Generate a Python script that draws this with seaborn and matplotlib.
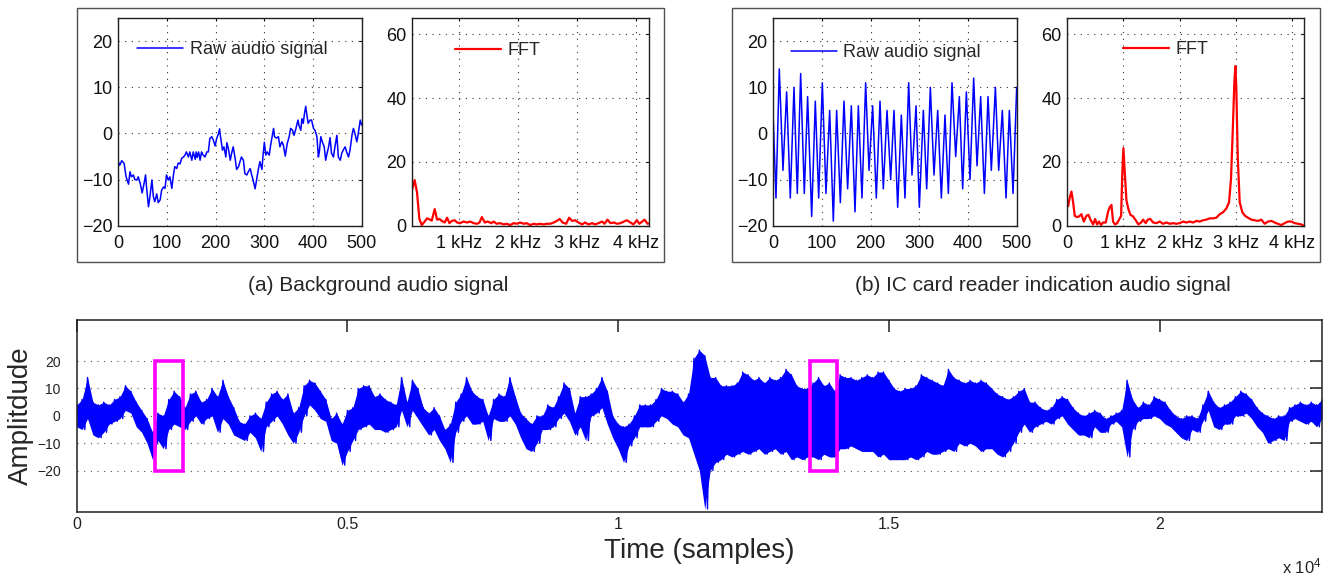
import numpy as np
import matplotlib
matplotlib.use("Agg")
import matplotlib.pyplot as plt
from matplotlib.patches import Rectangle
import seaborn as sns

#########################
# values

# (a) background audio, raw samples
bg_n = [0, 3, 7, 12, 16, 21, 24, 27, 31, 34,
        38, 41, 45, 49, 53, 56, 58, 62, 65, 69,
        72, 75, 79, 82, 86, 89, 93, 96, 99, 103,
        106, 110, 113, 116, 120, 123, 127, 130, 134, 137,
        140, 144, 147, 151, 154, 158, 160, 162, 165, 168,
        171, 173, 178, 182, 185, 188, 192, 195, 199, 202,
        206, 208, 210, 214, 217, 221, 223, 226, 230, 233,
        236, 240, 243, 247, 250, 253, 257, 260, 264, 267,
        271, 274, 277, 281, 284, 288, 291, 295, 298, 300,
        303, 306, 310, 313, 316, 319, 321, 325, 329, 332,
        336, 339, 343, 347, 351, 354, 358, 361, 365, 369,
        371, 375, 377, 380, 382, 385, 387, 390, 394, 397,
        401, 404, 408, 411, 413, 416, 419, 423, 426, 428,
        432, 435, 438, 442, 445, 449, 452, 456, 459, 462,
        466, 469, 473, 476, 480, 483, 486, 490, 493, 497,
        500]
bg_amp = [-6.1, -6.9, -5.9, -6.5, -9.4, -11.0, -8.3, -9.4, -9.0, -10.0,
          -10.1, -9.4, -10.8, -12.9, -10.8, -9.0, -11.6, -15.9, -13.7, -10.1,
          -13.7, -14.8, -13.1, -15.0, -14.4, -12.3, -11.6, -11.9, -9.0, -10.1,
          -9.4, -11.9, -9.2, -7.2, -7.6, -6.4, -6.6, -5.4, -5.1, -4.7,
          -4.0, -5.1, -4.0, -5.8, -4.0, -5.6, -4.0, -5.2, -4.0, -5.8,
          -4.0, -4.5, -5.1, -4.0, -4.0, -1.1, -0.7, -1.4, -2.7, -1.1,
          0.0, 1.0, -0.7, -3.6, -2.9, -5.1, -2.0, -3.2, -5.8, -4.2,
          -2.9, -5.4, -7.8, -7.2, -6.1, -5.1, -5.8, -8.7, -9.0, -8.3,
          -7.6, -9.0, -10.1, -12.0, -10.1, -7.6, -6.1, -7.8, -4.0, -1.9,
          -4.7, -4.0, -4.7, -2.5, -0.7, 1.1, -0.7, -1.0, -0.7, -2.9,
          -1.8, -2.5, -4.9, -2.2, -0.7, 1.1, 0.7, -0.4, 1.1, 2.9,
          1.8, 0.7, 3.2, 2.2, 4.0, 5.9, 4.3, 2.2, 2.9, 2.9,
          1.1, 0.7, -0.7, -5.1, -4.0, -0.7, -1.8, -2.9, -5.8, -4.7,
          -2.9, -0.9, -4.3, -5.1, -2.9, -0.4, -5.1, -5.8, -4.3, -3.6,
          -2.9, -4.0, -5.1, -3.6, -0.4, 1.1, 0.0, -1.8, 0.0, 2.9,
          1.8]

# (a) FFT
bg_khz = [0.20, 0.24, 0.28, 0.32, 0.36, 0.41, 0.45, 0.50, 0.53, 0.58,
          0.62, 0.66, 0.70, 0.75, 0.79, 0.83, 0.87, 0.92, 0.96, 1.01,
          1.07, 1.13, 1.18, 1.24, 1.30, 1.34, 1.38, 1.43, 1.48, 1.54,
          1.58, 1.63, 1.69, 1.75, 1.80, 1.86, 1.92, 1.97, 2.03, 2.09,
          2.14, 2.20, 2.26, 2.31, 2.37, 2.43, 2.48, 2.54, 2.60, 2.65,
          2.70, 2.75, 2.81, 2.86, 2.91, 2.96, 3.02, 3.08, 3.13, 3.19,
          3.25, 3.30, 3.36, 3.42, 3.46, 3.51, 3.56, 3.62, 3.67, 3.73,
          3.79, 3.84, 3.90, 3.95, 4.01, 4.05, 4.10, 4.14, 4.19, 4.23]
bg_fft = [11.5, 14.3, 10.4, 2.1, 0.2, 1.3, 2.3, 1.9, 1.6, 5.2,
          1.9, 2.1, 1.5, 1.0, 2.5, 0.8, 1.5, 1.7, 1.0, 0.8,
          1.3, 1.0, 1.3, 0.8, 0.6, 1.0, 2.7, 1.0, 1.3, 0.8,
          1.3, 0.6, 0.8, 0.4, 0.6, 0.2, 0.8, 0.6, 1.0, 0.6,
          0.8, 0.2, 0.6, 0.4, 0.6, 0.4, 0.6, 0.6, 1.0, 1.5,
          2.1, 1.0, 0.6, 2.5, 1.5, 1.7, 1.0, 0.4, 1.0, 0.4,
          0.8, 0.4, 0.8, 1.3, 0.6, 1.9, 0.8, 1.0, 0.6, 0.8,
          1.3, 1.7, 1.0, 0.4, 1.7, 0.6, 1.3, 1.9, 0.6, 0.8]

# (b) IC card reader tone, raw samples (peaks / troughs)
ic_n = [0, 5.5, 12.3, 19.9, 27.4, 34.9, 42.5, 49.3, 56.2, 63.7,
        70.5, 78.8, 86.3, 93.2, 100.7, 108.2, 115.8, 123.3, 130.1, 137.7,
        145.2, 152.7, 160.3, 167.8, 174.7, 182.2, 189.7, 196.6, 204.1, 211.6,
        219.2, 226.0, 233.6, 241.1, 247.9, 255.5, 263.0, 270.5, 278.1, 284.9,
        293.2, 300.0, 308.2, 315.1, 322.6, 330.1, 337.7, 345.2, 352.7, 359.6,
        367.1, 374.7, 382.2, 389.0, 396.6, 404.1, 411.6, 418.5, 426.0, 433.6,
        441.1, 447.9, 456.2, 463.0, 470.5, 478.1, 484.9, 492.5, 500]
ic_amp = [3, -14, 14, -8, 9, -14, 10, -13, 13, -13,
          8, -18, 7, -14, 11, -13, 5, -19, 5, -15,
          7, -12, 6, -17, 6, -14, 11, -8, 6, -14,
          7, -12, 5, -10, 5, -16, 4, -14, 11, -9,
          6, -16, 5, -12, 10, -9, 5, -14, 4, -13,
          11, -5, 8, -12, 9, -10, 12, -7, 8, -13,
          8, -8, 10, -8, 5, -14, 5, -13, 10]

# (b) FFT
ic_khz = [0.015, 0.044, 0.074, 0.104, 0.133, 0.175, 0.21, 0.252, 0.294, 0.34,
          0.377, 0.412, 0.46, 0.495, 0.53, 0.566, 0.60, 0.637, 0.685, 0.726,
          0.756, 0.786, 0.815, 0.85, 0.887, 0.922, 0.958, 0.98, 0.999, 1.023,
          1.053, 1.088, 1.124, 1.171, 1.219, 1.266, 1.314, 1.35, 1.397, 1.432,
          1.48, 1.527, 1.587, 1.646, 1.705, 1.765, 1.824, 1.883, 1.943, 2.002,
          2.061, 2.12, 2.18, 2.24, 2.30, 2.358, 2.417, 2.476, 2.536, 2.595,
          2.654, 2.714, 2.773, 2.832, 2.88, 2.915, 2.945, 2.975, 2.993, 3.01,
          3.034, 3.07, 3.117, 3.165, 3.218, 3.277, 3.336, 3.395, 3.455, 3.514,
          3.574, 3.633, 3.692, 3.751, 3.811, 3.87, 3.93, 3.99, 4.048, 4.108,
          4.167, 4.21]
ic_fft = [6.1, 8.9, 10.7, 7.3, 3.1, 2.7, 2.9, 3.6, 1.3, 3.1,
          3.4, 1.9, 0.4, 2.1, 0.4, 1.3, 0.2, 1.0, 1.0, 4.4,
          5.8, 6.5, 1.3, 0.4, 0.8, 1.9, 3.1, 16.8, 24.3, 16.8,
          7.9, 5.2, 3.4, 2.9, 1.7, 0.4, 1.0, 1.9, 0.8, 1.9,
          2.1, 1.0, 0.8, 1.3, 0.6, 1.0, 0.6, 0.8, 0.6, 0.8,
          1.3, 1.0, 1.3, 1.0, 1.5, 1.3, 1.7, 1.9, 2.3, 2.3,
          2.5, 3.6, 4.2, 5.4, 7.3, 14.7, 29.3, 45, 50, 43,
          22, 7.3, 4.2, 3.1, 2.5, 1.9, 1.7, 1.5, 1.9, 0.6,
          1.3, 1.5, 1.0, 0.6, 0.2, 0.8, 1.3, 1.3, 0.8, 0.6,
          0.4, 0.0]

# whole recording: highest / lowest amplitude in each 100-sample window
rec_step = 100
rec_hi = [4, 6, 14, 5, 4, 5, 4, 6, 7, 11,
          9, 5, 2, -1, -6, 1, 0, 6, 9, 7,
          3, 8, 9, 5, 6, 10, 7, 13, 7, 3,
          -2, -3, 0, 1, -1, 5, 8, 9, 6, 8,
          1, 3, 11, 13, 12, 9, 6, -1, 1, -3,
          2, 3, 10, 11, 11, 7, 8, 6, 5, 4,
          14, 5, 13, 10, 3, 1, 3, 0, -5, -3,
          5, 8, 14, 9, 7, 6, 0, 6, 8, 7,
          14, 7, 1, -1, -3, 0, 0, 4, 3, 7,
          12, 10, 1, 7, 7, 8, 10, 14, 9, 0,
          -3, -4, -3, 0, 4, 4, 4, 6, 10, 9,
          9, 8, 5, 8, 21, 24, 22, 14, 14, 11,
          11, 11, 12, 16, 15, 13, 14, 12, 14, 13,
          14, 17, 15, 11, 10, 10, 12, 14, 11, 12,
          9, 15, 14, 14, 13, 14, 15, 14, 16, 16,
          13, 10, 9, 10, 10, 11, 15, 14, 13, 12,
          11, 17, 14, 13, 12, 13, 12, 13, 12, 10,
          8, 7, 6, 7, 9, 10, 5, 5, 3, 2,
          3, 6, 7, 6, 3, 1, 0, 1, 2, 1,
          -1, 0, 1, 2, 13, 6, 3, 5, 4, 7,
          6, 5, 2, 0, -1, 0, 0, -1, 4, 9,
          5, 3, 4, 5, 7, 9, 8, 6, 3, 1,
          0, -1, 0, 0, 3, 4, 5, 4, 5, 4,
          6]
rec_lo = [-4, -5, -1, -7, -8, -6, -3, -2, -1, 2,
          1, -4, -6, -10, -16, -9, -12, -5, -3, -4,
          -5, -2, 0, -3, -1, 0, -6, -1, -3, -7,
          -8, -9, -6, -8, -13, -4, -2, 0, -3, -7,
          -10, -6, 0, 4, 2, -1, -2, -9, -10, -18,
          -13, -9, -5, -4, -3, -5, -5, -6, -5, -4,
          2, -4, 2, -1, -4, -7, -5, -9, -12, -17,
          -6, -2, 0, -3, -3, -2, -9, -1, -2, -2,
          0, -3, -8, -12, -13, -10, -5, -5, -4, -1,
          1, -2, -7, -4, -9, 0, 1, 3, -3, -8,
          -12, -17, -11, -8, -4, -4, -4, -2, 0, -1,
          -3, -4, -7, -8, -14, -20, -34, -20, -17, -16,
          -14, -15, -14, -13, -14, -13, -12, -14, -13, -12,
          -14, -13, -16, -15, -16, -15, -15, -16, -14, -15,
          -15, -12, -12, -11, -12, -13, -13, -13, -15, -14,
          -16, -16, -16, -16, -15, -16, -15, -13, -14, -14,
          -13, -12, -13, -10, -11, -10, -11, -13, -12, -12,
          -14, -15, -13, -10, -6, -3, -6, -4, -3, -2,
          -3, -1, 0, -3, -5, -7, -7, -8, -4, -6,
          -6, -3, -2, -4, -15, -5, -2, -1, -1, 0,
          -1, -3, -4, -6, -8, -9, -5, -6, -2, 2,
          -4, -5, -3, -3, 0, 0, 1, -1, -4, -6,
          -10, -9, -8, -9, -2, -1, -2, -3, -2, -4,
          -1]

# the two 500-sample windows marked in magenta
win_start = [1440, 13550]
win_end = [1960, 14040]
win_amp = 20

#########################

sns.set_style("white")
plt.rcParams["font.family"] = ["Liberation Sans", "DejaVu Sans"]
plt.rcParams["mathtext.fontset"] = "custom"
plt.rcParams["mathtext.rm"] = "Liberation Sans"
plt.rcParams["mathtext.default"] = "regular"

BLUE = "#0000ff"
RED = "#ff0000"
MAG = "#ff00ff"
DOTS = (0, (1, 5))

W, H = 1328, 577
fig = plt.figure(figsize=(W / 100, H / 100), dpi=100)


def place(l, t, r, b):
    return [l / W, 1 - b / H, (r - l) / W, (b - t) / H]


def frame(l, t, r, b):
    fig.add_artist(Rectangle((l / W, 1 - b / H), (r - l) / W, (b - t) / H,
                             transform=fig.transFigure, fill=False,
                             ec="#505050", lw=1.0))


def small_axes(ax):
    ax.tick_params(direction="in", length=2.5, width=0.8, top=True, right=True,
                   labelsize=13, colors="#111111")
    ax.tick_params(axis="x", pad=7)
    ax.tick_params(axis="y", pad=4)
    ax.grid(True, linestyle=DOTS, color="#303030", lw=0.8)
    for s in ax.spines.values():
        s.set_color("#202020")
        s.set_linewidth(1.0)


frame(77, 8.5, 664, 262)
frame(732, 8.5, 1320, 262)

ax_a1 = fig.add_axes(place(118.3, 18.2, 361.7, 225.7))
ax_a2 = fig.add_axes(place(412.3, 18.2, 649.3, 225.7))
ax_b1 = fig.add_axes(place(773.3, 18.2, 1016.7, 225.7))
ax_b2 = fig.add_axes(place(1067.3, 18.2, 1304.3, 225.7))
ax_r = fig.add_axes(place(76.7, 320, 1322, 511.7))

leg_kw = dict(loc="center left", frameon=False, borderpad=0, borderaxespad=0,
              handlelength=2.55, handletextpad=0.35, fontsize=13)

# raw signals
for ax, n, amp, lx, ly in [(ax_a1, bg_n, bg_amp, 0.078, 0.850),
                           (ax_b1, ic_n, ic_amp, 0.073, 0.834)]:
    sns.lineplot(x=n, y=amp, ax=ax, color=BLUE, lw=1.1, estimator=None,
                 sort=False, label="Raw audio signal")
    ax.set_xlim(0, 500)
    ax.set_ylim(-20, 25)
    ax.set_xticks([0, 100, 200, 300, 400, 500])
    ax.set_yticks([-20, -10, 0, 10, 20])
    small_axes(ax)
    ax.legend(bbox_to_anchor=(lx, ly), **leg_kw)

# spectra
for ax, f, mag, x0, ticks, lx, ly in [
        (ax_a2, bg_khz, bg_fft, 0.2, [1, 2, 3, 4], 0.180, 0.843),
        (ax_b2, ic_khz, ic_fft, 0.0, [0, 1, 2, 3, 4], 0.236, 0.848)]:
    sns.lineplot(x=f, y=mag, ax=ax, color=RED, lw=1.6, estimator=None,
                 sort=False, label="FFT")
    ax.set_xlim(x0, 4.22)
    ax.set_ylim(0, 65)
    ax.set_xticks(ticks)
    ax.set_xticklabels(["0" if t == 0 else f"{t} kHz" for t in ticks])
    ax.set_yticks([0, 20, 40, 60])
    small_axes(ax)
    ax.legend(bbox_to_anchor=(lx, ly), **leg_kw)

fig.text(378 / W, 1 - 285 / H, "(a) Background audio signal",
         ha="center", va="center", fontsize=15)
fig.text(1043 / W, 1 - 285 / H, "(b) IC card reader indication audio signal",
         ha="center", va="center", fontsize=15)

# full recording: band between window extremes plus the zigzag trace
rec_x = np.arange(len(rec_hi)) * rec_step
ax_r.fill_between(rec_x, rec_lo, rec_hi, color=BLUE, lw=0)
xs = np.column_stack([rec_x, rec_x + rec_step / 2]).ravel()
ys = np.column_stack([rec_hi, rec_lo]).ravel()
sns.lineplot(x=xs, y=ys, ax=ax_r, color=BLUE, lw=1.0, estimator=None, sort=False)

for a, b in zip(win_start, win_end):
    ax_r.add_patch(Rectangle((a, -win_amp), b - a, 2 * win_amp, fill=False,
                             ec=MAG, lw=2.6, zorder=5))

ax_r.set_xlim(0, 23000)
ax_r.set_ylim(-35, 35)
ax_r.set_xticks([0, 5000, 10000, 15000, 20000])
ax_r.set_xticklabels(["0", "0.5", "1", "1.5", "2"])
ax_r.set_yticks([-20, -10, 0, 10, 20])
ax_r.tick_params(direction="in", length=8.5, width=1.1, top=True, right=True,
                 colors="#222222")
ax_r.tick_params(axis="x", pad=3.5, labelsize=11.5)
ax_r.tick_params(axis="y", pad=11.5, labelsize=10)
ax_r.yaxis.grid(True, linestyle=DOTS, color="#555555", lw=0.8)
ax_r.xaxis.grid(False)
for s in ax_r.spines.values():
    s.set_color("#202020")
    s.set_linewidth(1.1)

ax_r.set_ylabel("Amplitdude", fontsize=20)
ax_r.yaxis.label.set_va("center")
ax_r.yaxis.set_label_coords(-0.0447, 0.5)
ax_r.set_xlabel("Time (samples)", fontsize=20)
ax_r.xaxis.label.set_va("center")
ax_r.xaxis.set_label_coords(0.5, -0.205)
fig.text(1322 / W, 1 - 566 / H, r"x 10$^{4}$", ha="right", va="center",
         fontsize=12)

fig.savefig("out.png", dpi=100)
